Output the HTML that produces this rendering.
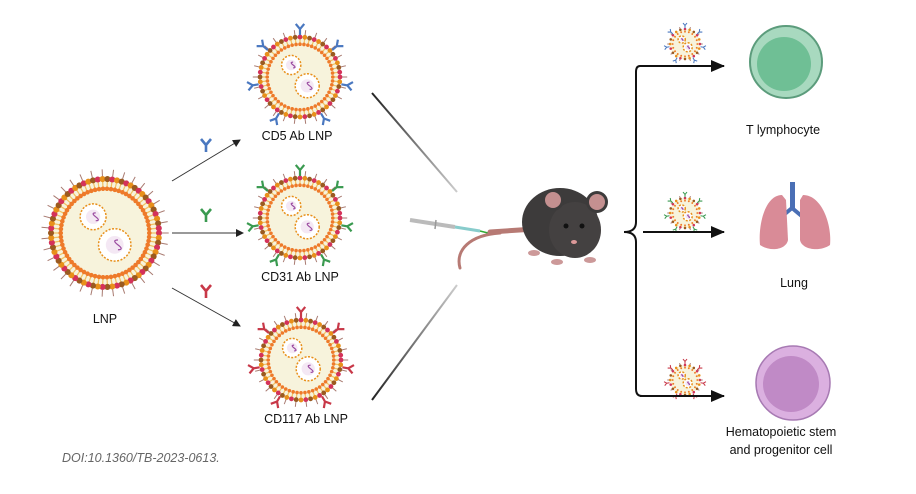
<!DOCTYPE html>
<html><head><meta charset="utf-8"><style>
html,body{margin:0;padding:0;background:#fff;width:916px;height:494px;overflow:hidden}
svg{display:block}
text{font-family:"Liberation Sans",Arial,sans-serif;font-size:12.5px;fill:#111}
</style></head><body>
<svg id="s" width="916" height="494" viewBox="0 0 916 494" xmlns="http://www.w3.org/2000/svg">
<defs>
<marker id="ah" markerWidth="8" markerHeight="8" refX="7" refY="4" orient="auto" markerUnits="userSpaceOnUse"><path d="M0,0 L8,4 L0,8 Z" fill="#222"/></marker>
<marker id="ahb" markerWidth="14" markerHeight="12" refX="13" refY="6" orient="auto" markerUnits="userSpaceOnUse"><path d="M0,0 L14,6 L0,12 Z" fill="#111"/></marker>
<linearGradient id="g1" x1="0" y1="0" x2="1" y2="1"><stop offset="0" stop-color="#222"/><stop offset="1" stop-color="#ccc"/></linearGradient>
<linearGradient id="g2" x1="0" y1="1" x2="1" y2="0"><stop offset="0" stop-color="#222"/><stop offset="1" stop-color="#ccc"/></linearGradient>
</defs>
<g id="lnps"></g>
<line x1="172" y1="181" x2="240" y2="140" stroke="#333" stroke-width="1" marker-end="url(#ah)"/>
<line x1="172" y1="233" x2="243" y2="233" stroke="#333" stroke-width="1" marker-end="url(#ah)"/>
<line x1="172" y1="288" x2="240" y2="326" stroke="#333" stroke-width="1" marker-end="url(#ah)"/>
<line x1="372" y1="93" x2="457" y2="192" stroke="url(#g1)" stroke-width="2"/>
<line x1="372" y1="400" x2="457" y2="285" stroke="url(#g2)" stroke-width="2"/>
<g>
<line x1="410" y1="220" x2="455" y2="227" stroke="#bbb" stroke-width="4"/>
<line x1="455" y1="227" x2="480" y2="231" stroke="#8cc" stroke-width="3"/>
<line x1="480" y1="231" x2="488" y2="233" stroke="#3a3" stroke-width="1.5"/>
<line x1="436" y1="220" x2="435" y2="229" stroke="#999" stroke-width="1.5"/>
</g>
<g>
<path d="M500,233 C470,235 455,250 460,268" stroke="#b77a74" stroke-width="3" fill="none" stroke-linecap="round"/>
<path d="M490,232 L535,229" stroke="#b77a74" stroke-width="5" stroke-linecap="round"/>
<ellipse cx="560" cy="222" rx="38" ry="34" fill="#3d3b3b"/>
<ellipse cx="575" cy="230" rx="26" ry="28" fill="#444141"/>
<circle cx="553" cy="200" r="11" fill="#3d3b3b"/><circle cx="553" cy="200" r="8" fill="#c49090"/>
<circle cx="597" cy="202" r="11" fill="#3d3b3b"/><circle cx="597" cy="202" r="8" fill="#c49090"/>
<circle cx="566" cy="226" r="2.5" fill="#111"/><circle cx="582" cy="226" r="2.5" fill="#111"/>
<ellipse cx="574" cy="242" rx="3" ry="2" fill="#d99"/>
<ellipse cx="534" cy="253" rx="6" ry="3" fill="#c99"/>
<ellipse cx="557" cy="262" rx="6" ry="3" fill="#c99"/>
<ellipse cx="590" cy="260" rx="6" ry="3" fill="#c99"/>
</g>
<path d="M640,66 Q636,66 636,72 L636,222 Q636,232 624,232 Q636,232 636,242 L636,389 Q636,396 642,396" stroke="#111" stroke-width="2" fill="none"/>
<line x1="640" y1="66" x2="724" y2="66" stroke="#111" stroke-width="2" marker-end="url(#ahb)"/>
<line x1="643" y1="232" x2="724" y2="232" stroke="#111" stroke-width="2" marker-end="url(#ahb)"/>
<line x1="640" y1="396" x2="724" y2="396" stroke="#111" stroke-width="2" marker-end="url(#ahb)"/>
<circle cx="786" cy="62" r="36" fill="#a8d9bf" stroke="#5c9c7c" stroke-width="2"/>
<circle cx="784" cy="64" r="27" fill="#6fbf95"/>
<g>
<rect x="790" y="182" width="5" height="28" fill="#4a6fb5"/>
<path d="M792,208 L780,218 M792,208 L804,218" stroke="#4a6fb5" stroke-width="4"/>
<path d="M782,195 C765,195 758,225 760,245 C770,252 786,250 788,240 L786,200 Z" fill="#d98b97"/>
<path d="M803,195 C822,195 832,225 830,245 C820,252 802,250 800,240 L800,200 Z" fill="#d98b97"/>
</g>
<circle cx="793" cy="383" r="37" fill="#dbb0e0" stroke="#a77ab3" stroke-width="1.5"/>
<circle cx="791" cy="384" r="28" fill="#c08ac6"/>
<text x="105" y="323" text-anchor="middle" font-size="13">LNP</text>
<text x="297" y="140" text-anchor="middle">CD5 Ab LNP</text>
<text x="300" y="281" text-anchor="middle">CD31 Ab LNP</text>
<text x="306" y="423" text-anchor="middle">CD117 Ab LNP</text>
<text x="783" y="134" text-anchor="middle">T lymphocyte</text>
<text x="794" y="287" text-anchor="middle">Lung</text>
<text x="781" y="436" text-anchor="middle">Hematopoietic stem</text>
<text x="781" y="454" text-anchor="middle">and progenitor cell</text>
<text x="62" y="462" font-style="italic" font-size="14" style="fill:#666">DOI:10.1360/TB-2023-0613.</text>
</svg>
<script>
var NS="http://www.w3.org/2000/svg",G=document.getElementById("lnps");
function el(t,a){var e=document.createElementNS(NS,t);for(var k in a)e.setAttribute(k,a[k]);G.appendChild(e);return e;}
function ab(x,y,ang,col,s){var g=document.createElementNS(NS,"g");g.setAttribute("transform","translate("+x+","+y+") rotate("+ang+") scale("+s+")");
g.innerHTML='<path d="M0,0 L0,-7 L-5,-13 M0,-7 L5,-13" stroke="'+col+'" stroke-width="2.6" fill="none"/>';G.appendChild(g);}
function lnp(cx,cy,R,col,small){
 el("circle",{cx:cx,cy:cy,r:R,fill:"#f7f3dc"});
 var n=Math.round(R*1.3);
 for(var i=0;i<n;i++){var a=i/n*Math.PI*2,c=Math.cos(a),s=Math.sin(a);
  el("line",{x1:cx+c*R*0.78,y1:cy+s*R*0.78,x2:cx+c*R,y2:cy+s*R,stroke:"#f0c060","stroke-width":1.2});
  el("circle",{cx:cx+c*R,cy:cy+s*R,r:R*0.045+0.6,fill:i%3==0?"#d4325a":(i%3==1?"#e8901a":"#9a5a20")});
  el("circle",{cx:cx+c*R*0.82,cy:cy+s*R*0.82,r:R*0.035+0.4,fill:"#ee7a2a"});
  if(i%2==0)el("line",{x1:cx+c*R*1.05,y1:cy+s*R*1.05,x2:cx+c*R*1.18,y2:cy+s*R*1.18,stroke:"#a87a70","stroke-width":1});
 }
 var v=[[-0.22,-0.3,0.24],[0.18,0.22,0.3]];
 v.forEach(function(p){var x=cx+p[0]*R,y=cy+p[1]*R,r=p[2]*R;
  el("circle",{cx:x,cy:y,r:r,fill:"#fff","stroke":"#e8901a","stroke-width":1.5,"stroke-dasharray":"2 1.5"});
  el("circle",{cx:x,cy:y,r:r*0.55,fill:"#f4e8f4"});
  el("path",{d:"M"+(x+r*0.2)+","+(y-r*0.3)+" q-"+r*0.4+",0 0,"+r*0.3+" t0,"+r*0.3,stroke:"#9a4aa0","stroke-width":1.2,fill:"none"});
 });
 if(col){var angs=[-90,-40,10,60,120,170,220];
  angs.forEach(function(d){var a=d*Math.PI/180,x=cx+Math.cos(a)*R*1.05,y=cy+Math.sin(a)*R*1.05;
   ab(x,y,d+90,col,small?0.4:0.85);});}
}
lnp(105,233,54,null);
lnp(300,77,40,"#4a78c0");
lnp(300,218,40,"#3a9a50");
lnp(301,360,40,"#c83848");
lnp(685,44,15,"#4a78c0",1);
lnp(685,213,15,"#3a9a50",1);
lnp(685,380,15,"#c83848",1);
ab(206,152,0,"#4a78c0",1);
ab(206,222,0,"#3a9a50",1);
ab(206,298,0,"#c83848",1);
</script>
</body></html>
